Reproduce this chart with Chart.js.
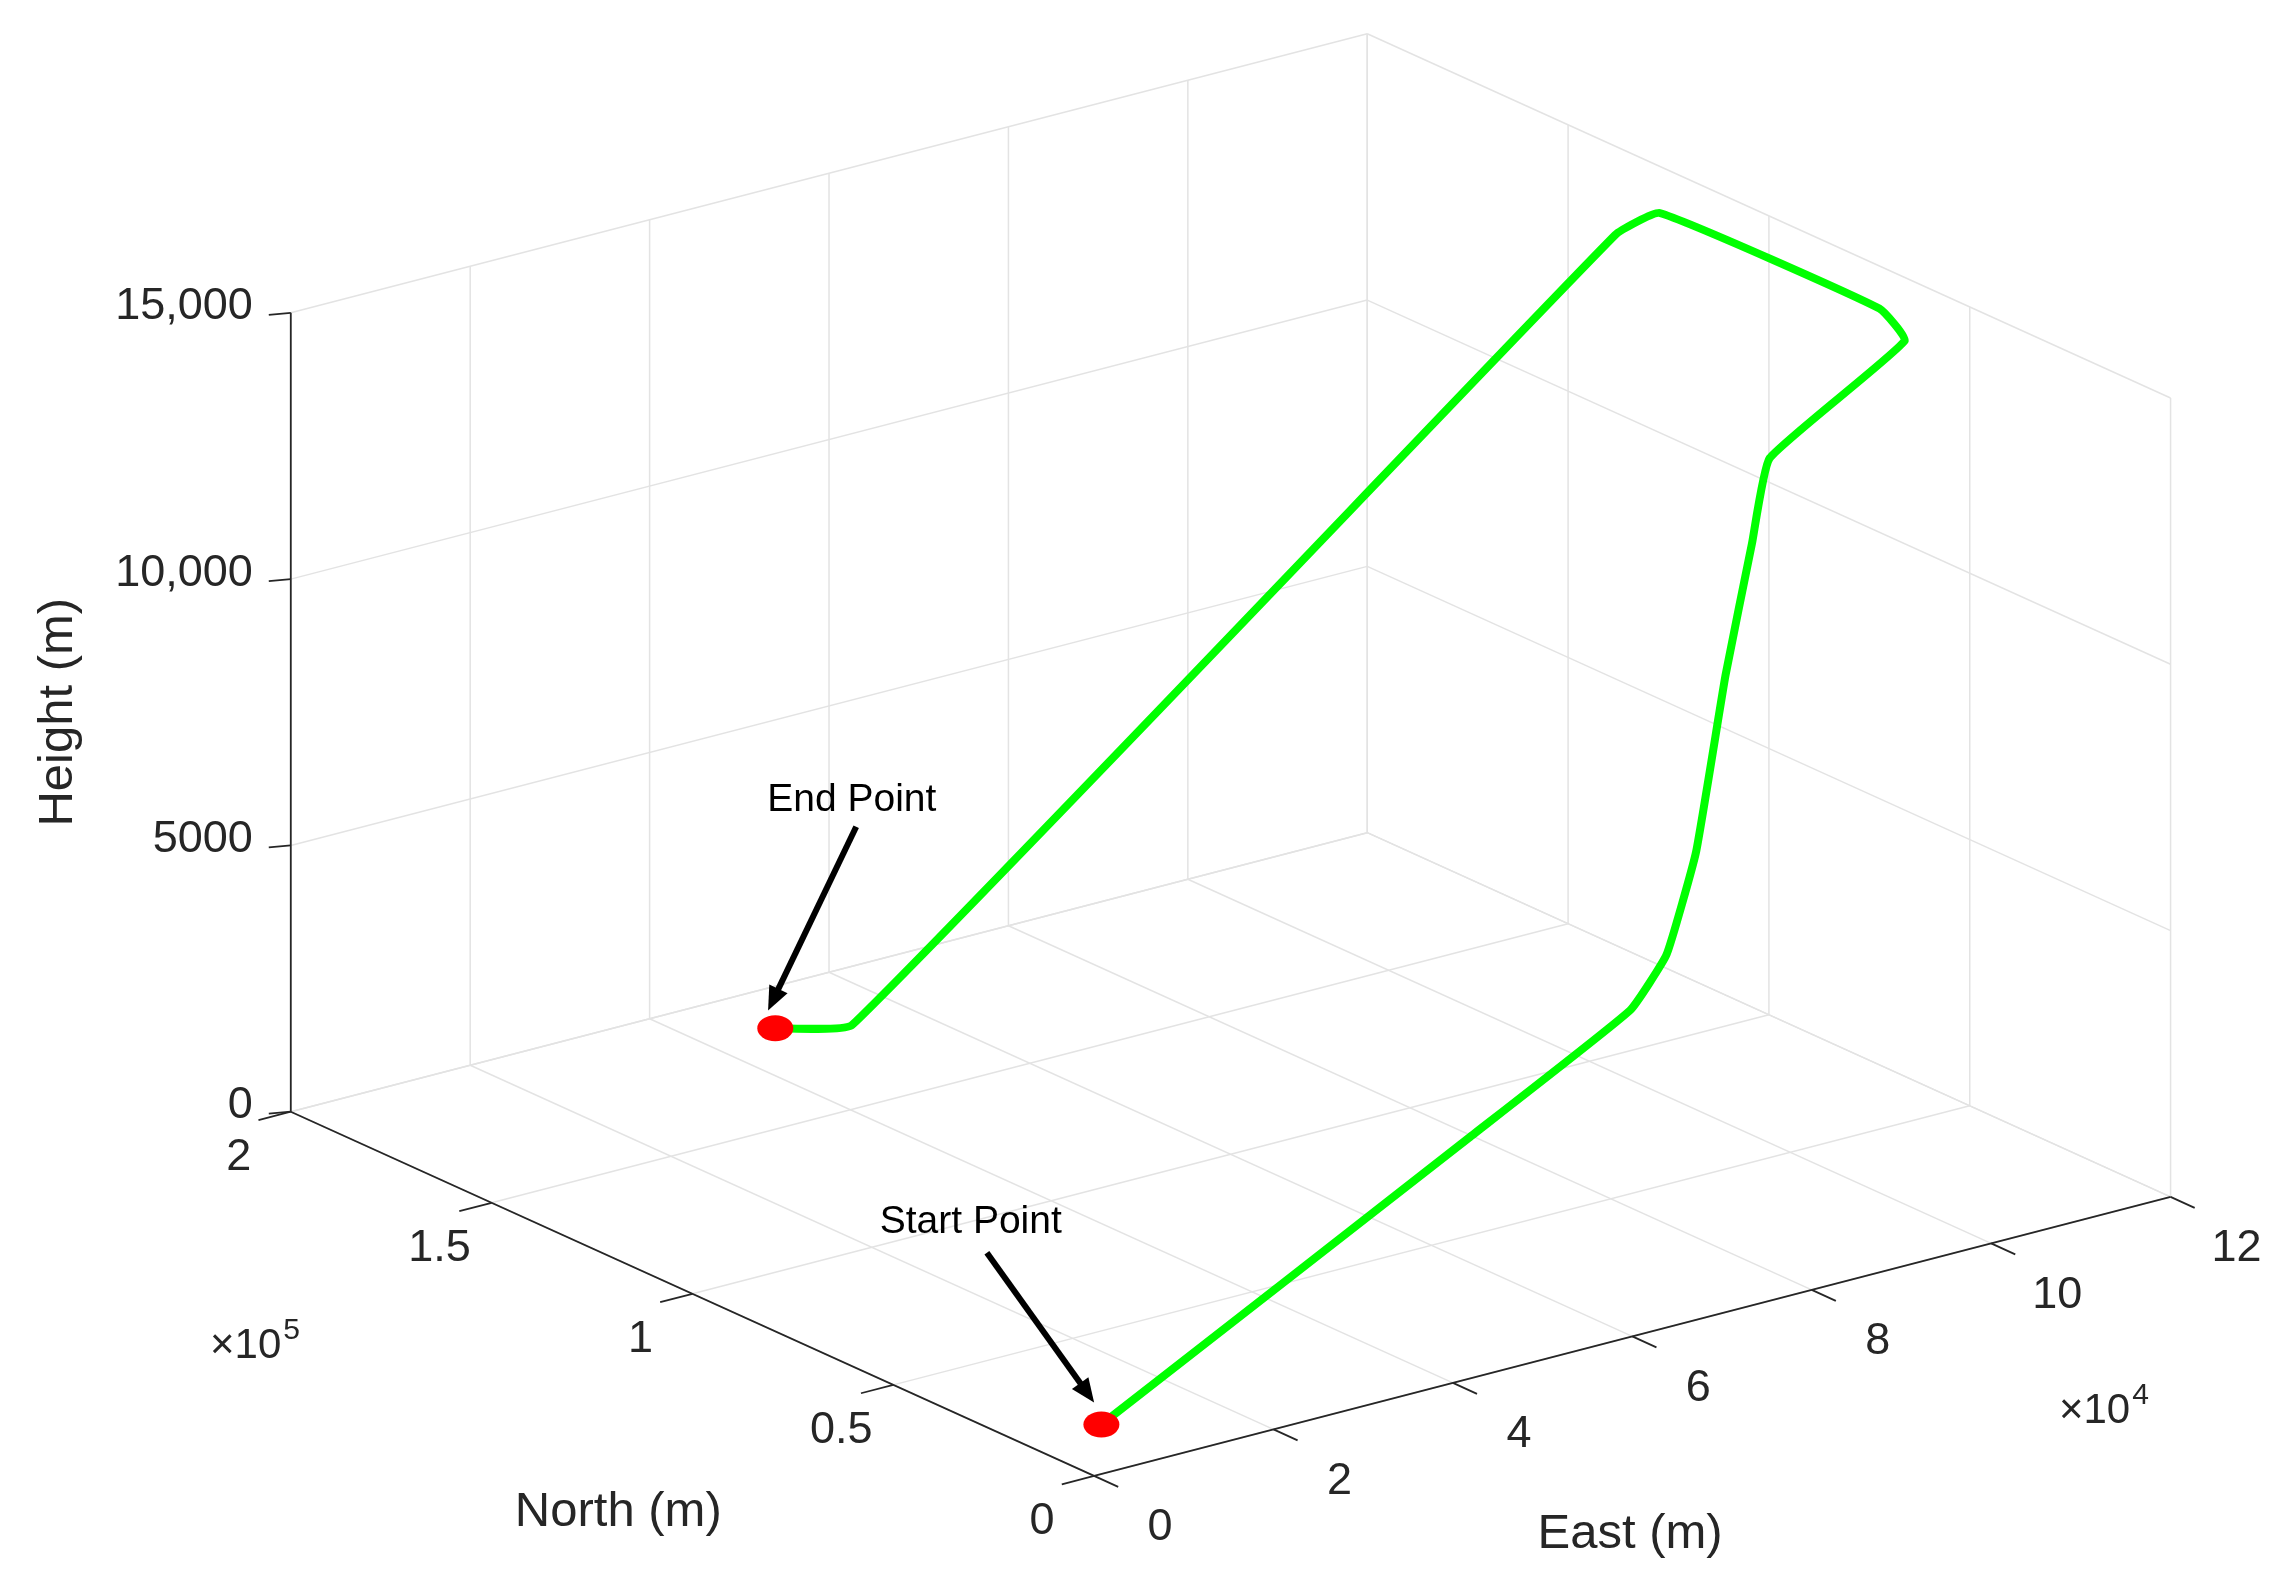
<!DOCTYPE html>
<html><head><meta charset="utf-8">
<script src="https://cdn.jsdelivr.net/npm/chart.js@4/dist/chart.umd.min.js"></script>
<style>html,body{margin:0;padding:0;background:#fff}canvas{display:block}</style>
</head><body>
<canvas id="c" width="2291" height="1588"></canvas>
<script>
// Trajectory (East m, North m, Height m)
const east   = [8560, 76100, 102500, 105500, 107000, 107500, 109200, 111300, 120100, 120000, 112700, 107800, 45000, 39100];
const north  = [17300, 76700, 95500, 93100, 89100, 82900, 80100, 80400, 66400, 72500, 110900, 111000, 160800, 166700];
const height = [0, 400, 1000, 2000, 4000, 7500, 10000, 11500, 13800, 14200, 15000, 14800, 1000, 1000];
const eastTicks = [0, 20000, 40000, 60000, 80000, 100000, 120000];
const eastTickLabels = ['0','2','4','6','8','10','12'];
const northTicks = [0, 50000, 100000, 150000, 200000];
const northTickLabels = ['0','0.5','1','1.5','2'];
const heightTicks = [0, 5000, 10000, 15000];
const heightTickLabels = ['0','5000','10,000','15,000'];

const S = 2291/1560;
function P(e,n,h){return {x:S*(745+733*e/120000-547*n/200000), y:S*(1005-190*e/120000-248*n/200000-544*h/15000)};}
const EM=120000, NM=200000, HM=15000;
const datasets=[];
function seg(a,b,color,w,order){datasets.push({data:[P(...a),P(...b)],showLine:true,pointRadius:0,borderColor:color,borderWidth:w,order:order});}
const G='#e3e3e3';
eastTicks.forEach(e=>seg([e,0,0],[e,NM,0],G,1.5,10));
northTicks.forEach(n=>seg([0,n,0],[EM,n,0],G,1.5,10));
eastTicks.forEach(e=>seg([e,NM,0],[e,NM,HM],G,1.5,10));
heightTicks.forEach(h=>seg([0,NM,h],[EM,NM,h],G,1.5,10));
northTicks.forEach(n=>seg([EM,n,0],[EM,n,HM],G,1.5,10));
heightTicks.forEach(h=>seg([EM,0,h],[EM,NM,h],G,1.5,10));
const A='#262626';
seg([0,0,0],[EM,0,0],A,1.8,5);
seg([0,0,0],[0,NM,0],A,1.8,5);
seg([0,NM,0],[0,NM,HM],A,1.8,5);
eastTicks.forEach(e=>seg([e,0,0],[e,-6000,0],A,1.8,5));
northTicks.forEach(n=>seg([0,n,0],[-3600,n,0],A,1.8,5));
datasets.push({data:east.map((e,i)=>P(e,north[i],height[i])),showLine:true,pointRadius:0,borderColor:'#00ff00',borderWidth:8,borderJoinStyle:'round',borderCapStyle:'round',tension:0.12,order:1});

const textPlugin={id:'txt',afterDatasetsDraw(ch){
  const c=ch.ctx,xs=ch.scales.x,ys=ch.scales.y;
  const px=p=>({x:xs.getPixelForValue(p.x),y:ys.getPixelForValue(p.y)});
  c.save();
  c.strokeStyle=A;c.lineWidth=1.8;
  heightTicks.forEach(h=>{const q=px(P(0,NM,h));c.beginPath();c.moveTo(q.x,q.y);c.lineTo(q.x-22,q.y+2);c.stroke();});
  c.fillStyle='#262626';c.font='45px "Liberation Sans", Arial';c.textBaseline='middle';
  c.textAlign='right';
  heightTicks.forEach((h,i)=>{const q=px(P(0,NM,h));c.fillText(heightTickLabels[i],q.x-38,q.y-6);});
  c.textAlign='center';
  northTicks.forEach((n,i)=>{const q=px(P(0,n,0));c.fillText(northTickLabels[i],q.x-52,q.y+46);});
  eastTicks.forEach((e,i)=>{const q=px(P(e,0,0));c.fillText(eastTickLabels[i],q.x+66,q.y+52);});
  c.font='49px "Liberation Sans", Arial';
  c.fillText('North (m)',S*421,S*1030);
  c.fillText('East (m)',S*1110,S*1045);
  c.save();c.translate(S*40,S*485);c.rotate(-Math.PI/2);c.fillText('Height (m)',0,0);c.restore();
  c.textAlign='left';
  function expo(x,y,p){c.font='42px "Liberation Sans", Arial';c.fillText('\u00d710',x,y);const w=c.measureText('\u00d710').width;c.font='30px "Liberation Sans", Arial';c.fillText(p,x+w+2,y-16);}
  expo(S*143,S*917,'5');expo(S*1402,S*961,'4');
  c.fillStyle='#000';c.font='39px "Liberation Sans", Arial';c.textAlign='center';
  c.fillText('End Point',S*580,S*545);c.fillText('Start Point',S*661,S*832);
  function arrow(x1,y1,x2,y2){x1*=S;y1*=S;x2*=S;y2*=S;c.strokeStyle='#000';c.lineWidth=6;c.beginPath();c.moveTo(x1,y1);
    const ang=Math.atan2(y2-y1,x2-x1),L=26;c.lineTo(x2-L*0.8*Math.cos(ang),y2-L*0.8*Math.sin(ang));c.stroke();
    c.beginPath();c.moveTo(x2,y2);c.lineTo(x2-L*Math.cos(ang-0.4),y2-L*Math.sin(ang-0.4));c.lineTo(x2-L*Math.cos(ang+0.4),y2-L*Math.sin(ang+0.4));c.closePath();c.fill();}
  arrow(583,563,523,688);arrow(672,853,745,955);
  c.fillStyle='#ff0000';
  [0,east.length-1].forEach(i=>{const q=px(P(east[i],north[i],height[i]));c.beginPath();c.ellipse(q.x,q.y,18,13,0,0,Math.PI*2);c.fill();});
  c.restore();
}};
new Chart(document.getElementById('c'),{type:'scatter',data:{datasets},
 options:{responsive:false,devicePixelRatio:1,animation:false,layout:{padding:0},
  plugins:{legend:{display:false},tooltip:{enabled:false}},
  scales:{x:{type:'linear',min:0,max:2291,display:false},y:{type:'linear',min:0,max:1588,reverse:true,display:false}}},
 plugins:[textPlugin]});
</script>
</body></html>
